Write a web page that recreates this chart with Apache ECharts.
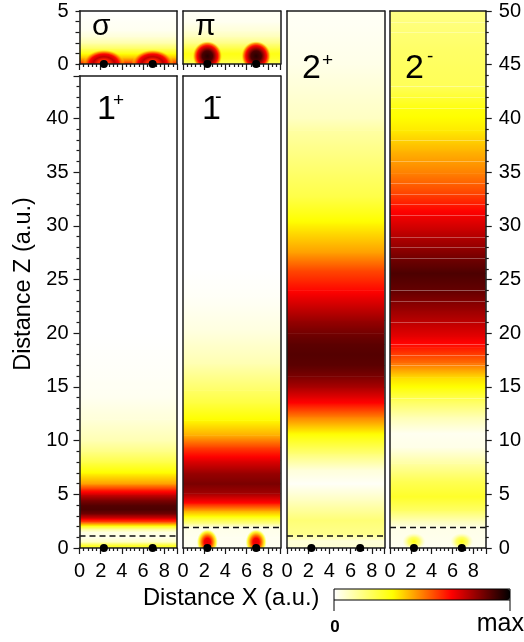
<!DOCTYPE html>
<html><head><meta charset="utf-8">
<style>html,body{margin:0;padding:0;background:#fff}#c{width:524px;height:642px}</style>
<script src="https://cdn.jsdelivr.net/npm/echarts@6/dist/echarts.min.js"></script>
</head><body><div id="c"></div>
<script>
// colour scale
const scaleColors = ['#ffffff', '#ffff00', '#ff0000', '#000000'];
// atoms and ticks
const atomX = [2.3, 6.9];
const xMax = 9.2;
const xTicksInterval = 2;
// z-profiles: z position and colour-scale value
const sigmaZ = [0, .3, .6, 1, 1.5, 2, 2.6, 3.2, 5];
const sigmaV = [.62, .52, .42, .32, .2, .11, .05, .02, 0];
const piZ = [0, .5, 1, 1.5, 2, 2.6, 3.2, 4, 5];
const piV = [.2, .28, .31, .24, .16, .09, .05, .02, .01];
const p1Z = [0, .3, .6, 1, 1.5, 1.8, 2.1, 2.4, 2.8, 3.2, 3.6, 4, 4.5, 5, 5.5, 6, 7, 8, 9, 10, 12, 14, 16, 20, 44];
const p1V = [.3, .26, .08, .03, .04, .15, .34, .55, .72, .85, .9, .89, .83, .73, .6, .46, .34, .24, .16, .1, .05, .02, .01, 0, 0];
const m1Z = [0, 1, 1.9, 2.3, 3, 3.5, 4.2, 5.1, 6, 7, 8.2, 9.4, 10.5, 11.9, 13.5, 14.7, 17.2, 20.3, 23.4, 26, 44];
const m1V = [.02, .02, .03, .15, .34, .45, .65, .79, .84, .8, .7, .58, .44, .34, .25, .2, .1, .04, .01, 0, 0];
const p2Z = [0, .7, 1.3, 2.6, 4.5, 6, 7.3, 8.8, 10.7, 12.2, 13.5, 14, 15, 16, 17, 18, 19, 20, 21.2, 24, 25.9, 27.5, 30.3, 32.7, 38.9, 40, 45, 50];
const p2V = [.06, .05, .15, .18, .08, .01, .05, .18, .34, .5, .66, .7, .78, .84, .88, .89, .88, .85, .8, .66, .57, .46, .34, .24, .12, .08, .03, .01];
const m2Z = [0, 1.9, 2.6, 3.5, 4.8, 6.3, 7.9, 9.4, 10.7, 12.2, 13.8, 15, 15.9, 17.2, 18.7, 19.7, 21.2, 22.2, 24, 25.6, 27, 29.6, 31.5, 33, 34.9, 37, 38.9, 40.8, 43, 46.4, 50];
const m2V = [.02, .03, .1, .2, .28, .22, .12, .03, .02, .1, .22, .33, .38, .52, .64, .7, .76, .8, .87, .9, .85, .74, .66, .58, .5, .43, .36, .32, .22, .2, .16];
// thin pale seams in the 2- panel
const seamZ = [49, 48, 43, 42, 41, 38, 36, 34, 33, 32, 31, 29, 28, 27, 24, 23, 21, 19, 18, 17, 14];
// dashed separators
const dash1p = 1.12, dash1m = 1.9, dash2p = 1.12, dash2m = 1.9;
// localized density spots: centre z, radii, and radial value profile
const sigmaSpot = {z: 0,   rx: 2.0,  ry: 1.35, off: [0, .3, .5, .7, .85, 1],  val: [.6, .62, .75, .66, .5, .34],  alpha: [1, 1, 1, 1, .8, 0]};
const piSpot    = {z: .75, rx: 1.4,  ry: 1.4,  off: [0, .35, .7, .85, 1],     val: [.95, .9, .66, .5, .34],       alpha: [1, 1, 1, .9, 0]};
const m1Spot    = {z: .55, rx: 1.0,  ry: 1.2,  off: [0, .3, .55, .8, 1],      val: [.7, .67, .5, .34, .2],        alpha: [1, 1, 1, .8, 0]};
const m2Spot    = {z: .6,  rx: 1.1,  ry: .8,   off: [0, .5, 1],               val: [.32, .27, .15],               alpha: [1, .7, 0]};

function colorOf(v, a) {
  const n = scaleColors.length - 1;
  const t = Math.min(Math.max(v, 0), 1) * n, i = Math.min(Math.floor(t), n - 1), f = t - i;
  const h = s => [1, 3, 5].map(k => parseInt(s.substr(k, 2), 16));
  const c0 = h(scaleColors[i]), c1 = h(scaleColors[i + 1]);
  const c = c0.map((x, k) => Math.round(x + (c1[k] - x) * f));
  return 'rgba(' + c.join(',') + ',' + (a == null ? 1 : a) + ')';
}

const L = [79.5, 183, 287, 390], W = 97.5;
const panels = [
  {col: 0, top: 11, h: 53,  yMax: 5,     z: sigmaZ, v: sigmaV, spot: sigmaSpot, left: true,  xLabel: false},
  {col: 1, top: 11, h: 53,  yMax: 5,     z: piZ,    v: piV,    spot: piSpot,    xLabel: false},
  {col: 0, top: 76, h: 472, yMax: 43.95, z: p1Z,    v: p1V,    dash: dash1p,    left: true, xLabel: true},
  {col: 1, top: 76, h: 472, yMax: 43.95, z: m1Z,    v: m1V,    dash: dash1m,    spot: m1Spot, xLabel: true},
  {col: 2, top: 11, h: 537, yMax: 50,    z: p2Z,    v: p2V,    dash: dash2p,    xLabel: true},
  {col: 3, top: 11, h: 537, yMax: 50,    z: m2Z,    v: m2V,    dash: dash2m,    spot: m2Spot, right: true, xLabel: true, seams: seamZ}
];
const INK = '#1a1a1a', FONT = 'Liberation Sans, Arial, sans-serif';
const grid = [], xAxis = [], yAxis = [], series = [];

panels.forEach((p, i) => {
  grid.push({left: L[p.col], top: p.top, width: W, height: p.h, show: false});
  const lineS = {show: true, onZero: false, lineStyle: {color: INK, width: 1.5}};
  xAxis.push({gridIndex: i, type: 'value', min: 0, max: xMax, interval: xTicksInterval, position: 'bottom', z: 10,
    axisLine: lineS, splitLine: {show: false},
    axisTick: {show: true, length: 6, lineStyle: {color: INK, width: 1.2}},
    minorTick: {show: true, splitNumber: 5, length: 3, lineStyle: {color: INK, width: 1.2}},
    axisLabel: {show: p.xLabel, margin: 13, fontSize: 20, color: '#000', fontFamily: FONT, showMaxLabel: false, hideOverlap: false,
      formatter: v => (v % 2 === 0 ? String(v) : '')}});
  xAxis.push({gridIndex: i, type: 'value', min: 0, max: xMax, position: 'top', z: 10, axisLine: lineS,
    axisTick: {show: false}, axisLabel: {show: false}, splitLine: {show: false}});
  const ticked = p.left || p.right;
  const ySide = {gridIndex: i, type: 'value', min: 0, max: p.yMax, interval: 5, z: 10, axisLine: lineS, splitLine: {show: false},
    axisTick: {show: !!ticked, length: 6, lineStyle: {color: INK, width: 1.2}},
    minorTick: {show: !!ticked, splitNumber: 5, length: 3, lineStyle: {color: INK, width: 1.2}},
    axisLabel: {show: !!ticked, margin: p.right ? 13 : 11, fontSize: 20, color: '#000', fontFamily: FONT, padding: [5, 0, 0, 0],
      formatter: v => (v % 5 === 0 ? String(v) : '')}};
  if (p.yMax === 5) { ySide.interval = 1; ySide.minorTick.show = false; ySide.axisTick.length = 4; }
  yAxis.push(Object.assign({}, ySide, {position: p.right ? 'right' : 'left'}));
  yAxis.push({gridIndex: i, type: 'value', min: 0, max: p.yMax, position: p.right ? 'left' : 'right', z: 10, axisLine: lineS,
    axisTick: {show: false}, axisLabel: {show: false}, splitLine: {show: false}});
  const xi = i * 2, yi = i * 2;
  // vertical bands of the density profile
  const rows = [];
  for (let k = 0; k < p.z.length - 1; k++) {
    if (p.z[k] >= p.yMax) break;
    rows.push([p.z[k], p.z[k + 1], p.v[k], p.v[k + 1]]);
  }
  series.push({type: 'custom', coordinateSystem: 'cartesian2d', xAxisIndex: xi, yAxisIndex: yi, z: 2, clip: true, silent: true,
    data: rows, dimensions: ['z0', 'z1', 'v0', 'v1'], encode: {y: [0, 1]},
    renderItem: (params, api) => {
      const z0 = api.value(0), z1 = api.value(1), v0 = api.value(2), v1 = api.value(3);
      const a = api.coord([0, z0]), b = api.coord([xMax, z1]);
      const stops = [];
      for (let s = 0; s <= 8; s++) stops.push({offset: s / 8, color: colorOf(v0 + (v1 - v0) * s / 8)});
      return {type: 'rect', shape: {x: a[0], y: b[1], width: b[0] - a[0], height: a[1] - b[1] + .6},
        style: {fill: new echarts.graphic.LinearGradient(0, 1, 0, 0, stops)}};
    }});
  if (p.spot) {
    const sp = p.spot;
    series.push({type: 'custom', coordinateSystem: 'cartesian2d', xAxisIndex: xi, yAxisIndex: yi, z: 3, clip: true, silent: true,
      data: atomX.map(x => [x, sp.z, sp.rx, sp.ry]),
      renderItem: (params, api) => {
        const c = api.coord([api.value(0), api.value(1)]);
        const rx = api.size([api.value(2), 0])[0], ry = api.size([0, api.value(3)])[1];
        const stops = sp.off.map((o, k) => ({offset: o, color: colorOf(sp.val[k], sp.alpha[k])}));
        return {type: 'circle', x: c[0], y: c[1], scaleY: ry / rx, shape: {cx: 0, cy: 0, r: rx},
          style: {fill: new echarts.graphic.RadialGradient(.5, .5, .5, stops)}};
      }});
  }
  if (p.seams) {
    series.push({type: 'custom', coordinateSystem: 'cartesian2d', xAxisIndex: xi, yAxisIndex: yi, z: 4, clip: true, silent: true,
      data: p.seams.map(z => [z]), encode: {y: 0},
      renderItem: (params, api) => {
        const a = api.coord([0, api.value(0)]), b = api.coord([xMax, api.value(0)]);
        return {type: 'line', shape: {x1: a[0], y1: Math.round(a[1]) + .5, x2: b[0], y2: Math.round(a[1]) + .5},
          style: {stroke: 'rgba(255,255,255,.3)', lineWidth: 1}};
      }});
  }
  if (p.dash != null) {
    series.push({type: 'line', xAxisIndex: xi, yAxisIndex: yi, z: 5, symbol: 'none', silent: true,
      data: [[0, p.dash], [xMax, p.dash]],
      lineStyle: {color: '#111', width: 1.5, type: [6, 4]}});
  }
  series.push({type: 'scatter', xAxisIndex: xi, yAxisIndex: yi, z: 12, clip: false, silent: true, symbolSize: 8,
    itemStyle: {color: '#000', opacity: 1}, data: atomX.map(x => [x, 0])});
});
// series bound to the colour scale legend
series.push({type: 'scatter', xAxisIndex: 0, yAxisIndex: 0, data: [], silent: true});

const txt = (x, y, text, size, extra) => ({type: 'text', z: 20, x, y,
  style: Object.assign({text, fontFamily: FONT, fontSize: size, fill: '#000', textAlign: 'left', textVerticalAlign: 'middle'}, extra || {})});
const graphic = [
  txt(92, 27, 'σ', 30), txt(195, 27, 'π', 30),
  txt(97, 110, '1', 34), txt(113, 101, '+', 19),
  txt(202, 110, '1', 34), txt(215, 97, '-', 20),
  txt(302, 69, '2', 34), txt(322, 61, '+', 19),
  txt(405, 69, '2', 34), txt(427, 57, '-', 19),
  Object.assign(txt(24, 284, 'Distance Z (a.u.)', 23.5, {textAlign: 'center'}), {rotation: Math.PI / 2}),
  txt(143, 598, 'Distance X (a.u.)', 23.7),
  {type: 'rect', z: 20, shape: {x: 334, y: 589, width: 176, height: 11}, style: {fill: 'none', stroke: '#000', lineWidth: 1}},
  {type: 'line', z: 20, shape: {x1: 334, y1: 600, x2: 334, y2: 611}, style: {stroke: '#000', lineWidth: 1}},
  {type: 'line', z: 20, shape: {x1: 510, y1: 600, x2: 510, y2: 611}, style: {stroke: '#000', lineWidth: 1}},
  txt(335, 627, '0', 17, {textAlign: 'center', fontWeight: 'bold'}),
  txt(524, 624, 'max', 25, {textAlign: 'right'})
];

const chart = echarts.init(document.getElementById('c'), null, {renderer: 'canvas'});
chart.setOption({
  animation: false, backgroundColor: '#fff', grid, xAxis, yAxis, series, graphic,
  visualMap: {type: 'continuous', show: true, orient: 'horizontal', left: 334, top: 589, min: 0, max: 1,
    itemWidth: 11, itemHeight: 176, padding: 0, calculable: false, text: null, showLabel: false, realtime: false,
    hoverLink: false, seriesIndex: series.length - 1, inRange: {color: scaleColors},
    borderColor: '#000', borderWidth: 0}
});
</script></body></html>
